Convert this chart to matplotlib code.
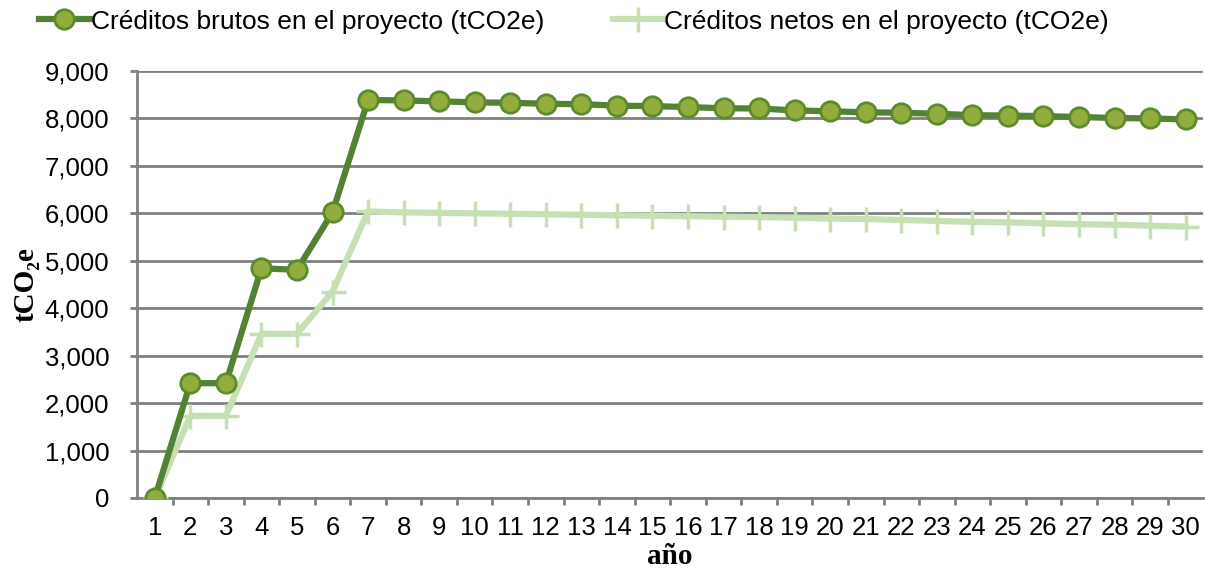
import matplotlib
matplotlib.use("Agg")
import matplotlib.pyplot as plt
from matplotlib.ticker import FixedLocator, FuncFormatter

# ── data ────────────────────────────────────────────────────────────────
years = list(range(1, 31))
brutos = [0, 2420, 2420, 4840, 4810, 6020, 8390, 8380, 8360, 8340,
          8330, 8310, 8300, 8270, 8260, 8240, 8215, 8210, 8170, 8150,
          8130, 8120, 8100, 8070, 8060, 8050, 8030, 8010, 8000, 7980]
netos = [0, 1730, 1730, 3460, 3460, 4350, 6040, 6020, 6010, 6000,
         5990, 5980, 5970, 5960, 5950, 5940, 5930, 5920, 5910, 5890,
         5880, 5860, 5840, 5820, 5810, 5790, 5770, 5760, 5740, 5720]
label_brutos = "Créditos brutos en el proyecto (tCO2e)"
label_netos = "Créditos netos en el proyecto (tCO2e)"

plt.rcParams["font.family"] = ["Liberation Sans", "DejaVu Sans"]

fig = plt.figure(figsize=(12.05, 5.69), dpi=100)
ax = fig.add_axes([0.1137, 0.1248, 0.885, 0.7504])

GRID = "#808080"
ax.set_axisbelow(True)
ax.yaxis.grid(True, color=GRID, linewidth=2)

ax.plot(years, netos, color="#C6E0B4", linewidth=4.5, marker="+",
        markersize=18, markeredgewidth=2.5, label=label_netos, zorder=3)
ax.plot(years, brutos, color="#548235", linewidth=4.5, marker="o",
        markersize=14, markerfacecolor="#92AD3E", markeredgecolor="#5B8B2C",
        markeredgewidth=2, label=label_brutos, zorder=4)

ax.set_xlim(0.5, 30.5)
ax.set_ylim(0, 9000)
ax.set_yticks(range(0, 9001, 1000))
ax.yaxis.set_major_formatter(FuncFormatter(lambda v, p: f"{int(v):,}"))

# category labels centred, tick marks on the boundaries
ax.set_xticks(years)
ax.set_xticklabels([str(y) for y in years])
ax.xaxis.set_minor_locator(FixedLocator([y + 0.5 for y in years[:-1]]))
ax.tick_params(axis="x", which="major", length=0, labelsize=18.5, pad=13)
ax.tick_params(axis="x", which="minor", length=5, width=2, color=GRID)
ax.tick_params(axis="y", length=5, width=2, color=GRID, labelsize=18.5, pad=15)

for s in ["top", "right"]:
    ax.spines[s].set_visible(False)
for s in ["left", "bottom"]:
    ax.spines[s].set_color(GRID)
    ax.spines[s].set_linewidth(2)

ax.set_ylabel("tCO₂e", family=["Liberation Serif", "DejaVu Serif"],
              fontweight="bold", fontsize=21, labelpad=4)
ax.set_xlabel("año", family=["Liberation Serif", "DejaVu Serif"],
              fontweight="bold", fontsize=21, labelpad=2)

handles, labels = ax.get_legend_handles_labels()
fig.legend(handles[::-1], labels[::-1], loc="upper left", ncol=2,
           bbox_to_anchor=(0.013, 1.025), frameon=False, fontsize=19,
           handlelength=1.9, handletextpad=0.05, columnspacing=2.6)

plt.savefig("out.png", dpi=100)
